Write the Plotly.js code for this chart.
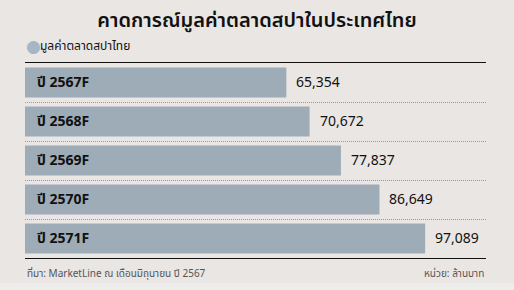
<!DOCTYPE html>
<html><head><meta charset="utf-8">
<script src="https://cdn.plot.ly/plotly-3.0.1.min.js"></script>
<style>html,body{margin:0;padding:0;background:#e9e6e4;}</style>
</head><body><div id="chart" style="width:514px;height:290px;"></div>
<script>
const categories = ["ปี 2567F","ปี 2568F","ปี 2569F","ปี 2570F","ปี 2571F"];
const values = [65354, 70672, 77837, 86649, 97089];
const seriesName = "มูลค่าตลาดสปาไทย";
const chartTitle = "คาดการณ์มูลค่าตลาดสปาในประเทศไทย";
const sourceText = "ที่มา: MarketLine ณ เดือนมิถุนายน ปี 2567";
const unitText = "หน่วย: ล้านบาท";

const FONT = "'Noto Sans Thai', 'Noto Sans', sans-serif";
const barColor = "#9eacb8";

const trace = {
  type: "bar", orientation: "h",
  x: values, y: categories, name: seriesName,
  marker: {color: barColor},
  hoverinfo: "none", showlegend: false
};

const valueAnn = values.map((v, i) => ({
  x: v, y: categories[i], xref: "x", yref: "y",
  text: v.toLocaleString("en-US"), showarrow: false,
  xanchor: "left", yanchor: "middle", xshift: 8,
  font: {family: FONT, size: 14, color: "#111"}
}));

const layout = {
  width: 514, height: 290,
  paper_bgcolor: "#e9e6e4", plot_bgcolor: "#e9e6e4",
  margin: {l: 25, r: 28, t: 63, b: 32},
  bargap: 0.23,
  title: {text: chartTitle, x: 0.5, xanchor: "center", y: 0.93, yanchor: "middle",
          font: {family: FONT, size: 20, color: "#111", weight: 600}},
  xaxis: {range: [5600, 111000], showline: true, mirror: true, linecolor: "#111", linewidth: 1.3,
          showticklabels: false, showgrid: false, zeroline: false, ticks: "", fixedrange: true},
  yaxis: {autorange: "reversed", type: "category", tickson: "boundaries", showgrid: true,
          griddash: "1px,1px", gridcolor: "#999", gridwidth: 1, ticks: "", showline: false,
          ticklabelposition: "inside", ticklabelstandoff: 9,
          tickfont: {family: FONT, size: 14, color: "#111", weight: 700}, fixedrange: true},
  shapes: [{type: "rect", xref: "paper", yref: "paper", x0: -0.06, x1: 1.07,
            y0: -25/195, y1: -40/195, fillcolor: "#efedec", line: {width: 0}, layer: "below"}],
  annotations: valueAnn.concat([
    {xref: "paper", yref: "paper", x: 0, y: 1, xanchor: "left", yanchor: "middle", yshift: 17, xshift: -1,
     text: "●", showarrow: false, font: {family: "DejaVu Sans", size: 17, color: "#a5b6c7"}},
    {xref: "paper", yref: "paper", x: 0, y: 1, xanchor: "left", yanchor: "middle", yshift: 17, xshift: 13,
     text: seriesName, showarrow: false, font: {family: FONT, size: 12, color: "#111"}},
    {xref: "paper", yref: "paper", x: 0, y: 0, xanchor: "left", yanchor: "top", yshift: -6,
     text: sourceText, showarrow: false, font: {family: FONT, size: 10, color: "#555"}},
    {xref: "paper", yref: "paper", x: 1, y: 0, xanchor: "right", yanchor: "top", yshift: -6,
     text: unitText, showarrow: false, font: {family: FONT, size: 10, color: "#555"}}
  ])
};

Plotly.newPlot("chart", [trace], layout, {displayModeBar: false, staticPlot: true});
</script></body></html>
